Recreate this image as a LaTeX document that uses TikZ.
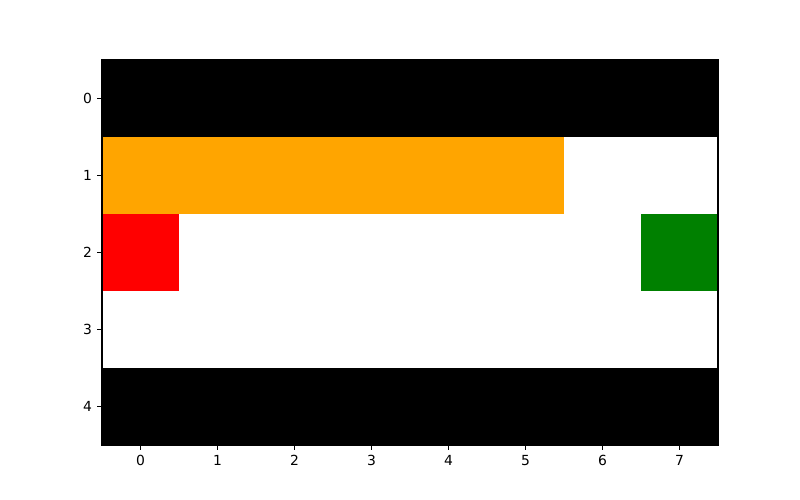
\documentclass[tikz,border=0pt]{standalone}
\usepackage{fontspec}
\setmainfont{DejaVu Sans}
\definecolor{mplorange}{HTML}{FFA500}
\definecolor{mplgreen}{HTML}{008000}
\definecolor{mplred}{HTML}{FF0000}

\begin{document}
\begin{tikzpicture}[x=55.44pt, y=-55.44pt, line join=miter,
    spine/.style={line width=0.8pt, black},
    ticklabel/.style={inner sep=0pt, font=\fontsize{10}{12}\selectfont}]
    % 画布 (800x500 像素)
    \useasboundingbox (-1.8247,-1.2792) rectangle (8.5649,5.2143);

    % 第 0 行与第 4 行: 黑色
    \fill[black] (-0.5,-0.5) rectangle (7.5,0.5);
    \fill[black] (-0.5,3.5) rectangle (7.5,4.5);

    % 第 1 行: 橙色 (0 到 5 列)
    \fill[mplorange] (-0.5,0.5) rectangle (5.5,1.5);

    % 第 2 行: 起点 (红) 与终点 (绿)
    \fill[mplred] (-0.5,1.5) rectangle (0.5,2.5);
    \fill[mplgreen] (6.5,1.5) rectangle (7.5,2.5);

    % 边框
    \coordinate (TL) at (-0.5,-0.5);
    \coordinate (BR) at (7.5,4.5);
    \draw[spine] (TL) rectangle (BR);

    % x 轴刻度
    \foreach \c in {0,...,7} {
        \coordinate (xt\c) at (\c,4.5);
        \draw[spine] (xt\c) -- ++(0,-3.5pt);
        \node[ticklabel, anchor=north] (xl\c) at ([yshift=-7pt]xt\c) {\c};
    }

    % y 轴刻度
    \foreach \r in {0,...,4} {
        \coordinate (yt\r) at (-0.5,\r);
        \draw[spine] (yt\r) -- ++(-3.5pt,0);
        \node[ticklabel, anchor=east] (yl\r) at ([xshift=-7pt]yt\r) {\r};
    }
\end{tikzpicture}
\end{document}
